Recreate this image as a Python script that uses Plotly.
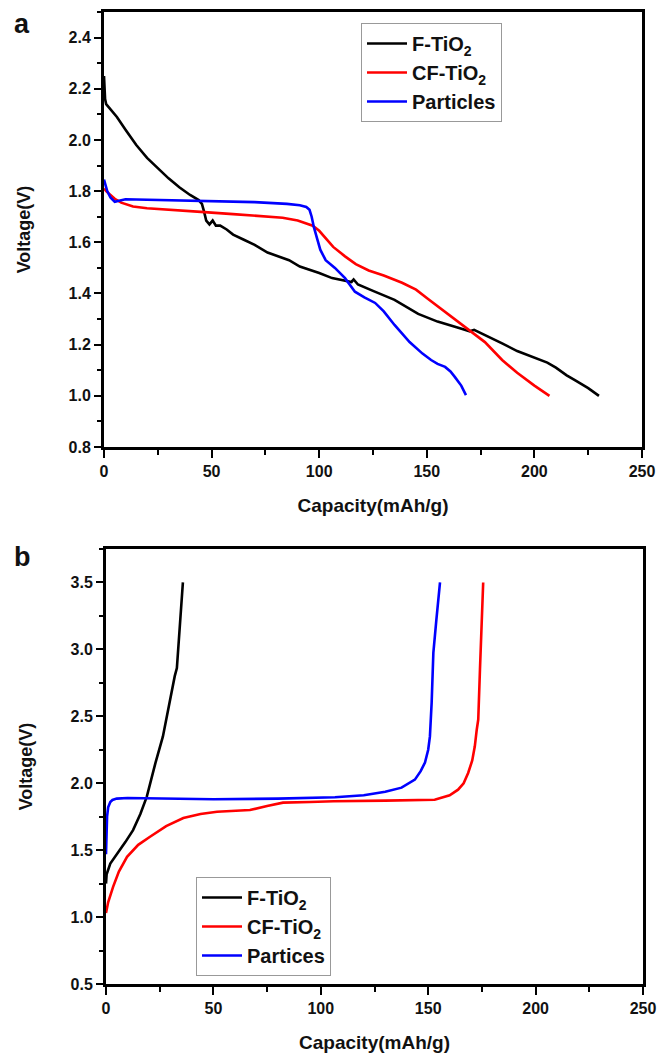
import plotly.graph_objects as go

# ---------------- Panel a (discharge) ----------------
a_f_cap = [0, 0.2, 0.5, 1, 3, 6, 10, 15, 20, 25, 30, 35, 40, 44, 45.5, 46.5, 47.5, 49, 50.5, 52, 54, 57, 60,
           65, 70, 76, 86, 91, 100, 106, 112, 115, 116, 118, 125, 135, 146, 155, 165, 170, 172, 175, 180, 185,
           192, 200, 206, 210, 215, 219, 225, 230]
a_f_v = [2.25, 2.2, 2.16, 2.14, 2.12, 2.09, 2.04, 1.98, 1.93, 1.89, 1.85, 1.815, 1.785, 1.765, 1.75, 1.72,
         1.685, 1.67, 1.685, 1.665, 1.665, 1.65, 1.63, 1.61, 1.59, 1.56, 1.53, 1.505, 1.48, 1.46, 1.45, 1.445,
         1.455, 1.435, 1.41, 1.375, 1.32, 1.29, 1.265, 1.252, 1.258, 1.245, 1.225, 1.205, 1.175, 1.15, 1.13,
         1.11, 1.08, 1.06, 1.03, 1.0]

a_cf_cap = [0, 1, 3, 5, 8, 13.5, 20, 30, 45, 60, 75, 83, 90, 97, 100, 103, 106.5, 112, 117, 123, 130, 138.5,
            145, 150.6, 155, 160, 169, 177, 185, 192, 200, 207]
a_cf_v = [1.81, 1.8, 1.785, 1.77, 1.755, 1.74, 1.733, 1.728, 1.719, 1.71, 1.70, 1.696, 1.685, 1.665, 1.645,
          1.615, 1.582, 1.545, 1.515, 1.49, 1.47, 1.442, 1.415, 1.378, 1.35, 1.315, 1.258, 1.21, 1.14, 1.09,
          1.04, 1.0]

a_p_cap = [0, 0.5, 1.5, 3, 5, 7, 10, 15, 25, 40, 55, 70, 85, 91, 94, 95.5, 96.5, 97.5, 99, 100.5, 103, 107.3,
           112, 116.6, 121, 126, 130, 135, 142, 148, 152, 155, 158.5, 161, 163, 166, 168.2]
a_p_v = [1.845, 1.83, 1.80, 1.775, 1.758, 1.762, 1.768, 1.767, 1.765, 1.762, 1.76, 1.757, 1.75, 1.745, 1.738,
         1.727, 1.70, 1.66, 1.615, 1.571, 1.53, 1.50, 1.46, 1.407, 1.385, 1.363, 1.33, 1.277, 1.21, 1.165,
         1.14, 1.125, 1.113, 1.095, 1.074, 1.04, 1.003]

# ---------------- Panel b (charge) ----------------
b_f_cap = [0, 0.3, 2, 5, 9, 12.6, 16, 19, 20.5, 23, 26.5, 29.8, 31, 32, 33, 33.5, 34.5, 35.8]
b_f_v = [1.25, 1.32, 1.40, 1.466, 1.56, 1.65, 1.77, 1.90, 2.0, 2.15, 2.35, 2.63, 2.72, 2.80, 2.86, 2.98,
         3.25, 3.5]

b_cf_cap = [0, 1, 3.3, 6, 9.8, 15, 20.5, 28, 36, 44, 51.7, 60, 67, 75, 82.4, 95, 106, 130, 153, 160, 163.9,
            166.5, 168.6, 170.5, 171.7, 172.6, 173.3, 174.1, 174.8, 175.6]
b_cf_v = [1.03, 1.11, 1.226, 1.34, 1.45, 1.54, 1.60, 1.68, 1.74, 1.77, 1.787, 1.795, 1.80, 1.83, 1.855, 1.86,
          1.865, 1.87, 1.877, 1.91, 1.952, 2.0, 2.077, 2.17, 2.276, 2.40, 2.476, 2.85, 3.15, 3.5]

b_p_cap = [0, 0.2, 0.5, 1, 2, 3, 5, 10, 30, 50, 80, 106.6, 120, 130, 137.6, 141, 143.8, 146.5, 148.5, 150,
           150.8, 151.6, 152.4, 153.8, 155.5]
b_p_v = [1.47, 1.6, 1.75, 1.82, 1.86, 1.875, 1.885, 1.89, 1.885, 1.88, 1.885, 1.895, 1.91, 1.937, 1.967, 2.0,
         2.027, 2.09, 2.154, 2.25, 2.35, 2.6, 2.975, 3.22, 3.5]

names_a = ["F-TiO<sub>2</sub>", "CF-TiO<sub>2</sub>", "Particles"]
names_b = ["F-TiO<sub>2</sub>", "CF-TiO<sub>2</sub>", "Partices"]
colors = ["#000000", "#ff0000", "#0000ff"]

W, H = 670, 1055
OFF = 8  # page body margin offset
FONT = "Liberation Sans, Arial, sans-serif"


def px_x(p):
    return (p - OFF) / W


def px_y(p):
    return 1 - (p - OFF) / H


fig = go.Figure()
for cap, v, name, col in zip([a_f_cap, a_cf_cap, a_p_cap], [a_f_v, a_cf_v, a_p_v], names_a, colors):
    fig.add_trace(go.Scatter(x=cap, y=v, mode="lines", name=name, line=dict(color=col, width=2.6),
                             xaxis="x", yaxis="y", legend="legend"))
for cap, v, name, col in zip([b_f_cap, b_cf_cap, b_p_cap], [b_f_v, b_cf_v, b_p_v], names_b, colors):
    fig.add_trace(go.Scatter(x=cap, y=v, mode="lines", name=name, line=dict(color=col, width=2.6),
                             xaxis="x2", yaxis="y2", legend="legend2"))

tickfont = dict(family=FONT, size=16, color="#111111", weight="bold")
xtitlefont = dict(family=FONT, size=19, color="#111111", weight="bold")
ytitlefont = dict(family=FONT, size=18, color="#111111", weight="bold")
legfont = dict(family=FONT, size=20, color="#111111", weight="bold")


def xax(domain, anchor):
    return dict(domain=domain, anchor=anchor, range=[0, 250], tickvals=[0, 50, 100, 150, 200, 250],
                showgrid=False, zeroline=False, showline=True, linecolor="black", linewidth=3, mirror=True,
                ticks="outside", ticklen=8, tickwidth=2, tickcolor="black", tickfont=tickfont,
                minor=dict(ticks="outside", ticklen=5, tickwidth=2, tickcolor="black", dtick=25, tick0=0),
                title=dict(text="Capacity(mAh/g)", font=xtitlefont, standoff=20), automargin=False)


def yax(domain, anchor, rng, dtick, minor):
    return dict(domain=domain, anchor=anchor, range=rng, dtick=dtick, tick0=0, tickformat=".1f",
                showgrid=False, zeroline=False, showline=True, linecolor="black", linewidth=3, mirror=True,
                ticks="outside", ticklen=7, tickwidth=2, tickcolor="black", tickfont=tickfont,
                minor=dict(ticks="outside", ticklen=4, tickwidth=2, tickcolor="black", dtick=minor, tick0=0),
                title=dict(text="Voltage(V)", font=ytitlefont, standoff=34), automargin=False)


fig.update_layout(
    width=W, height=H, margin=dict(l=0, r=0, t=0, b=0, pad=0),
    paper_bgcolor="white", plot_bgcolor="white",
    xaxis=xax([px_x(104), px_x(642)], "y"),
    yaxis=yax([px_y(447), px_y(12)], "x", [0.8, 2.5], 0.2, 0.1),
    xaxis2=xax([px_x(106), px_x(643)], "y2"),
    yaxis2=yax([px_y(984), px_y(549)], "x2", [0.5, 3.75], 0.5, 0.25),
    legend=dict(x=px_x(361), y=px_y(23), xanchor="left", yanchor="top", bgcolor="white",
                bordercolor="#999999", borderwidth=1, font=legfont, tracegroupgap=0, itemwidth=40),
    legend2=dict(x=px_x(196), y=px_y(877), xanchor="left", yanchor="top", bgcolor="white",
                 bordercolor="#999999", borderwidth=1, font=legfont, tracegroupgap=0, itemwidth=40),
    annotations=[
        dict(text="a", x=px_x(22), y=1.0, xref="paper", yref="paper", showarrow=False,
             xanchor="center", yanchor="top", borderpad=0,
             font=dict(family=FONT, size=27, color="#111111", weight="bold")),
        dict(text="b", x=px_x(22), y=px_y(557), xref="paper", yref="paper", showarrow=False,
             xanchor="center", yanchor="middle",
             font=dict(family=FONT, size=27, color="#111111", weight="bold")),
    ],
)

fig.write_html("out.html")
